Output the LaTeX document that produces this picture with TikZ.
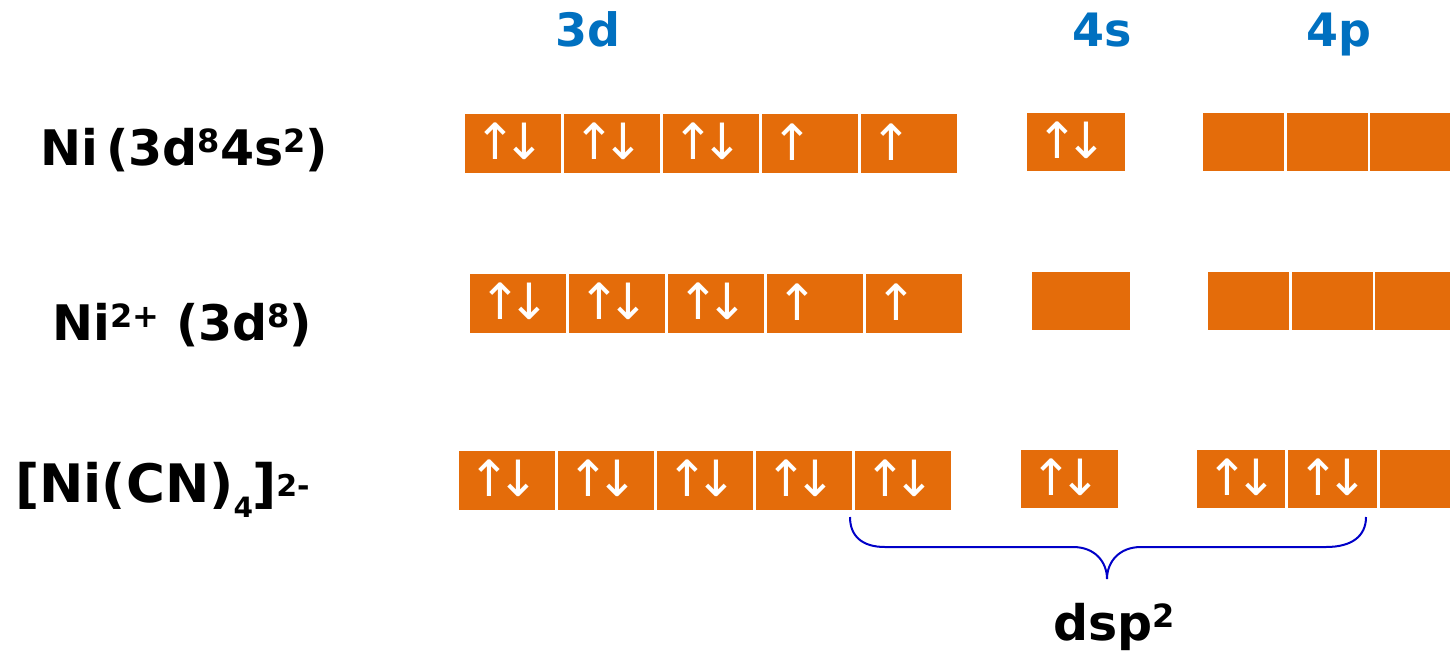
\documentclass[tikz,border=0pt]{standalone}
\usepackage{fontspec}
\setmainfont{DejaVu Sans}
\definecolor{orb}{HTML}{E46C0A}
\definecolor{lbl}{HTML}{0070C0}
\definecolor{brc}{RGB}{0,0,200}
\newcommand\supr[3][13pt]{\raisebox{#1}{\fontsize{#2}{#2}\selectfont #3}}
\newcommand\subr[1]{\raisebox{-15pt}{\fontsize{28}{28}\selectfont #1}}
\newcommand\ud{↑\kern-13pt↓}
\begin{document}
\begin{tikzpicture}[x=1pt,y=-1pt,
  obox/.style={fill=orb, draw=none, inner sep=0pt, anchor=north west},
  spin/.style={text=white, font=\fontsize{50}{50}\selectfont, inner sep=0pt, anchor=west},
  rowlab/.style={font=\fontsize{49}{58}\selectfont\bfseries, inner sep=0pt, anchor=base west},
  shell/.style={font=\fontsize{46}{56}\selectfont\bfseries, text=lbl, inner sep=0pt, anchor=base},
  brace/.style={draw=brc, line width=2pt}]
\useasboundingbox (0,0) rectangle (1450,651);
% headings
\node[shell] (h3d) at (588,46) {3d};
\node[shell] (h4s) at (1102,46) {4s};
\node[shell] (h4p) at (1339,46) {4p};
% row labels
\node[rowlab] (l1) at (40,165) {Ni\,(3d\supr{32}{8}4s\supr{32}{2})};
\node[rowlab] (l2) at (52,340) {Ni\supr{32}{2+} (3d\supr{32}{8})};
\node[rowlab, font=\fontsize{53}{64}\selectfont\bfseries] (l3) at (15,502) {[Ni(CN)\subr{4}\kern-1pt]\supr[6pt]{30}{2-}};
% row 1
\foreach \i/\x in {1/465,2/564,3/663,4/762,5/861}
  \node[obox, minimum width=96pt, minimum height=59pt] (r1d\i) at (\x,114) {};
\node[obox, minimum width=98pt, minimum height=58pt] (r1s) at (1027,113) {};
\foreach \i/\x in {1/1203,2/1286.5,3/1370}
  \node[obox, minimum width=81pt, minimum height=58pt] (r1p\i) at (\x,113) {};
\foreach \i/\s in {1/\ud,2/\ud,3/\ud,4/↑,5/↑}
  \node[spin] (s1d\i) at ([xshift=9pt,yshift=2pt]r1d\i.west) {\s};
\node[spin] (s1s) at ([xshift=9pt,yshift=2pt]r1s.west) {\ud};
% row 2
\foreach \i/\x in {1/470,2/569,3/668,4/767,5/866}
  \node[obox, minimum width=96pt, minimum height=59pt] (r2d\i) at (\x,274) {};
\node[obox, minimum width=98pt, minimum height=58pt] (r2s) at (1032,272) {};
\foreach \i/\x in {1/1208,2/1291.5,3/1375}
  \node[obox, minimum width=81pt, minimum height=58pt] (r2p\i) at (\x,272) {};
\foreach \i/\s in {1/\ud,2/\ud,3/\ud,4/↑,5/↑}
  \node[spin] (s2d\i) at ([xshift=9pt,yshift=2pt]r2d\i.west) {\s};
% row 3
\foreach \i/\x in {1/459,2/558,3/657,4/756,5/855}
  \node[obox, minimum width=96pt, minimum height=59pt] (r3d\i) at (\x,451) {};
\node[obox, minimum width=97pt, minimum height=58pt] (r3s) at (1021,450) {};
\foreach \i/\x/\w in {1/1197/88,2/1288/89,3/1380/70}
  \node[obox, minimum width=\w pt, minimum height=58pt] (r3p\i) at (\x,450) {};
\foreach \i in {1,...,5}
  \node[spin] (s3d\i) at ([xshift=9pt,yshift=2pt]r3d\i.west) {\ud};
\node[spin] (s3s) at ([xshift=9pt,yshift=2pt]r3s.west) {\ud};
\node[spin] (s3p1) at ([xshift=9pt,yshift=2pt]r3p1.west) {\ud};
\node[spin] (s3p2) at ([xshift=9pt,yshift=2pt]r3p2.west) {\ud};
% brace
\coordinate (bl) at (850,517);
\coordinate (bt) at (1107,579);
\coordinate (br) at (1366,517);
\draw[brace] (bl) .. controls (850,536) and (862,547) .. (885,547) -- (1073,547)
  .. controls (1095,547) and (1107,562) .. (bt)
  .. controls (1107,562) and (1119,547) .. (1141,547) -- (1326,547)
  .. controls (1352,547) and (1366,536) .. (br);
\node[rowlab, anchor=base] (dsp) at (1114,640) {dsp\supr{32}{2}};
\end{tikzpicture}
\end{document}
